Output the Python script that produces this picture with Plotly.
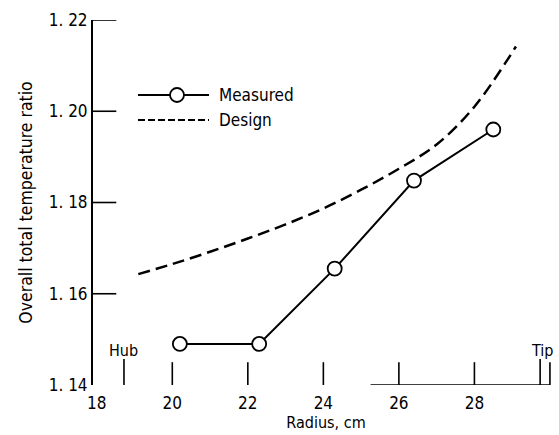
import plotly.graph_objects as go

# Data
measured_r = [20.2, 22.3, 24.3, 26.4, 28.5]
measured_t = [1.149, 1.149, 1.1655, 1.1848, 1.196]
design_r = [19.1, 20.0, 21.0, 22.0, 23.0, 24.0, 25.0, 26.0, 27.0, 28.0, 29.1]
design_t = [1.1643, 1.1665, 1.1692, 1.1721, 1.1752, 1.1787, 1.1828, 1.1874, 1.1927, 1.2010, 1.2142]
x_ticks = [18, 20, 22, 24, 26, 28, 30]
y_ticks = [1.14, 1.16, 1.18, 1.20, 1.22]
y_ticktext = ["1. 14", "1. 16", "1. 18", "1. 20", "1. 22"]
hub_r = 18.72
tip_r = 29.74

FONT = "Liberation Sans Narrow, DejaVu Sans Condensed, Arial Narrow, sans-serif"
X0, X1 = 17.9, 30.24
Y0, Y1 = 1.14, 1.22

fig = go.Figure()
fig.add_trace(go.Scatter(x=design_r, y=design_t, mode="lines",
                         line=dict(color="black", width=2.5, dash="12px,6px", shape="spline", smoothing=1.0),
                         showlegend=False, hoverinfo="skip"))
fig.add_trace(go.Scatter(x=measured_r, y=measured_t, mode="lines+markers",
                         line=dict(color="black", width=2),
                         marker=dict(symbol="circle", size=14, color="white",
                                     line=dict(color="black", width=1.8)),
                         showlegend=False, hoverinfo="skip"))

shapes = []
tick_h = 0.005
# x tick marks (floating, inside)
for v in x_ticks[1:]:
    shapes.append(dict(type="line", xref="x", yref="y", x0=v, x1=v, y0=Y0, y1=Y0 + tick_h,
                       line=dict(color="black", width=1.6)))
# hub and tip marks
for v in [hub_r, tip_r]:
    shapes.append(dict(type="line", xref="x", yref="y", x0=v, x1=v, y0=Y0, y1=Y0 + 0.0057,
                       line=dict(color="black", width=1.6)))
# partial bottom line
shapes.append(dict(type="line", xref="x", yref="y", x0=25.25, x1=30.0, y0=Y0, y1=Y0,
                   line=dict(color="black", width=1.6)))
# y tick marks inside
for v in y_ticks[1:]:
    shapes.append(dict(type="line", xref="x domain", yref="y", x0=0, x1=0.05, y0=v, y1=v,
                       line=dict(color="black", width=1.6)))
# legend samples
shapes.append(dict(type="line", xref="paper", yref="paper", x0=(138-93)/466, x1=(209-93)/466,
                   y0=(385-95)/365, y1=(385-95)/365, line=dict(color="black", width=2)))
shapes.append(dict(type="circle", xref="paper", yref="paper", xsizemode="pixel", ysizemode="pixel",
                   xanchor=(177-93)/466, yanchor=(385-95)/365, x0=-7, x1=7, y0=-7, y1=7,
                   fillcolor="white", line=dict(color="black", width=1.8)))
shapes.append(dict(type="line", xref="paper", yref="paper", x0=(138-93)/466, x1=(209-93)/466,
                   y0=(385-120)/365, y1=(385-120)/365,
                   line=dict(color="black", width=1.8, dash="7px,3px")))

annotations = [
    dict(text="Measured", xref="paper", yref="paper", x=(217-93)/466, y=(385-95)/365,
         xanchor="left", yanchor="middle", showarrow=False, font=dict(size=17)),
    dict(text="Design", xref="paper", yref="paper", x=(217-93)/466, y=(385-120)/365,
         xanchor="left", yanchor="middle", showarrow=False, font=dict(size=17)),
    dict(text="Hub", xref="x", yref="paper", x=hub_r, y=(385-350)/365,
         xanchor="center", yanchor="middle", showarrow=False, font=dict(size=16)),
    dict(text="Tip", xref="x", yref="paper", x=tip_r + 0.05, y=(385-350)/365,
         xanchor="center", yanchor="middle", showarrow=False, font=dict(size=16)),
]

fig.update_layout(
    width=559, height=435,
    margin=dict(l=93, r=0, t=20, b=50),
    paper_bgcolor="white", plot_bgcolor="white",
    font=dict(family=FONT, color="black", size=16),
    shapes=shapes, annotations=annotations,
    xaxis=dict(range=[X0, X1], tickvals=x_ticks, ticktext=[str(v) for v in x_ticks],
               ticks="", showline=False, showgrid=False, zeroline=False,
               tickfont=dict(size=17), ticklabelstandoff=6,
               title=dict(text="Radius, cm", font=dict(size=16), standoff=2)),
    yaxis=dict(range=[Y0, Y1], tickvals=y_ticks, ticktext=y_ticktext,
               ticks="", showline=True, linecolor="black", linewidth=2,
               showgrid=False, zeroline=False, tickfont=dict(size=17),
               title=dict(text="Overall total temperature ratio", font=dict(size=17.5), standoff=12)),
)

fig.write_html("out.html")
